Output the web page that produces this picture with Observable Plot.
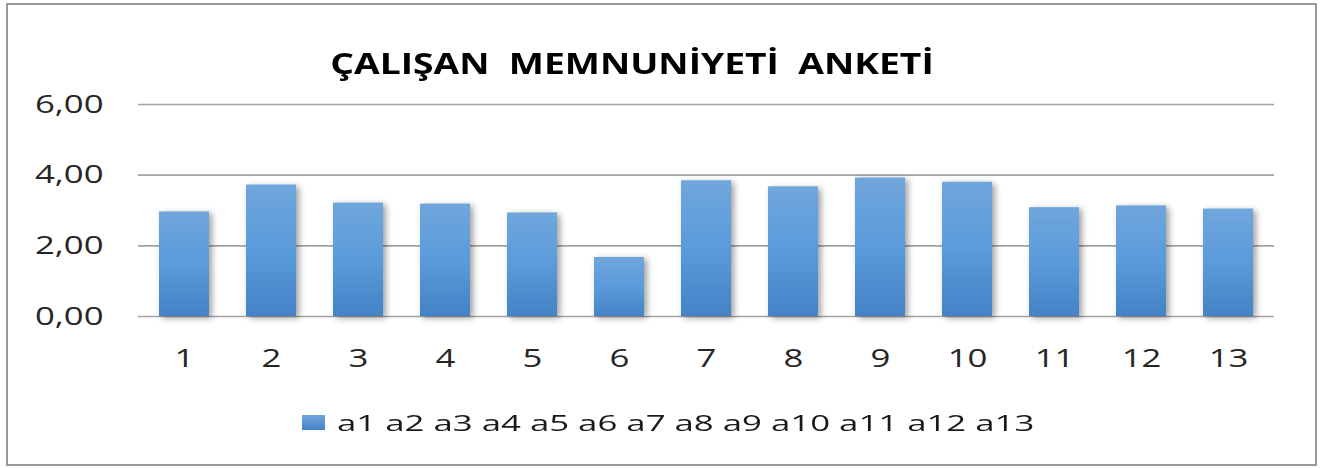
<!DOCTYPE html>
<html><head><meta charset="utf-8">
<script src="https://cdn.jsdelivr.net/npm/d3@7"></script>
<script src="https://cdn.jsdelivr.net/npm/@observablehq/plot@0.6"></script>
<style>
body{margin:0;background:#fff;}
#wrap{position:relative;width:1337px;height:468px;overflow:hidden;font-family:"Open Sans",sans-serif;background:#fff;}
#frame{position:absolute;left:6px;top:3px;width:1307px;height:459px;border:2px solid #9a9a9a;}
#title{position:absolute;left:0;top:49px;width:1264px;text-align:center;font-weight:bold;font-size:28px;line-height:28px;white-space:pre;color:#000;transform:scaleX(1.33);transform-origin:632px 50%;}
#chart{position:absolute;left:0;top:80px;}
#legend{position:absolute;left:302px;top:409px;height:30px;white-space:pre;}
#legend .sw{position:absolute;left:0;top:6px;width:23px;height:15px;background:linear-gradient(#6fa6dc,#4383c6);}
#legend .txt{position:absolute;left:35px;top:0;font-size:22px;line-height:26px;color:#1a1a1a;transform:scaleX(1.58);transform-origin:0 50%;}
g[aria-label="bar"] rect{filter:drop-shadow(3px 2px 3px rgba(0,0,0,0.38));}
</style></head>
<body>
<div id="wrap">
  <div id="frame"></div>
  <div id="title"></div>
  <div id="chart"></div>
  <div id="legend"><div class="sw"></div><div class="txt"></div></div>
</div>
<script>
const titleText = "ÇALIŞAN  MEMNUNİYETİ  ANKETİ";
const categories = ["1","2","3","4","5","6","7","8","9","10","11","12","13"];
const values = [2.96, 3.72, 3.21, 3.18, 2.93, 1.67, 3.84, 3.67, 3.92, 3.80, 3.08, 3.13, 3.04];
const yTicks = [0, 2, 4, 6];
const legendLabels = ["a1","a2","a3","a4","a5","a6","a7","a8","a9","a10","a11","a12","a13"];

const data = categories.map((c, i) => ({cat: c, value: values[i]}));

document.getElementById("title").textContent = titleText;
document.querySelector("#legend .txt").textContent = legendLabels.join(" ");

const chart = Plot.plot({
  width: 1337,
  height: 310,
  marginLeft: 138,
  marginRight: 63,
  marginTop: 24,
  marginBottom: 74,
  style: {fontFamily: "'Open Sans', sans-serif", fontSize: "25px", color: "#262626", background: "transparent", overflow: "visible"},
  x: {domain: categories, paddingInner: 0.43, paddingOuter: 0.23, label: null},
  y: {domain: [0, 6], ticks: yTicks, label: null},
  marks: [
    Plot.ruleY(yTicks, {stroke: "#a3a3a3", strokeWidth: 1.6}),
    Plot.barY(data, {x: "cat", y: "value", fill: "url(#barGrad)"}),
    Plot.axisX({tickSize: 0, tickPadding: 33, fontSize: 25}),
    Plot.axisY({ticks: yTicks, tickSize: 0, tickPadding: 35, fontSize: 25,
      tickFormat: d => d.toFixed(2).replace(".", ",")})
  ]
});

// widen axis glyphs horizontally around their anchors (the reference text is stretched)
function stretch(sel, sx) {
  chart.querySelectorAll(sel).forEach(t => {
    let tr = t.getAttribute("transform");
    if (!tr) {
      const x = +(t.getAttribute("x") || 0), y = +(t.getAttribute("y") || 0);
      t.removeAttribute("x"); t.removeAttribute("y");
      tr = `translate(${x},${y})`;
    }
    t.setAttribute("transform", tr + ` scale(${sx},1)`);
  });
}
stretch('g[aria-label="y-axis tick label"] text', 1.39);
stretch('g[aria-label="x-axis tick label"] text', 1.39);

const defs = d3.select(chart).insert("defs", ":first-child");
const g = defs.append("linearGradient").attr("id", "barGrad")
  .attr("x1", 0).attr("y1", 0).attr("x2", 0).attr("y2", 1);
g.append("stop").attr("offset", "0%").attr("stop-color", "#70a6dc");
g.append("stop").attr("offset", "50%").attr("stop-color", "#5a9bdb");
g.append("stop").attr("offset", "100%").attr("stop-color", "#4383c6");

document.getElementById("chart").appendChild(chart);
</script>
</body></html>
